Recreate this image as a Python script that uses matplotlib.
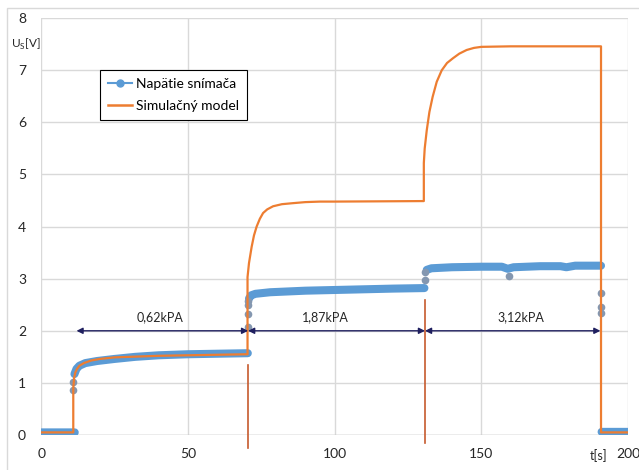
import matplotlib
matplotlib.use("Agg")
import matplotlib.pyplot as plt
from matplotlib.lines import Line2D
from matplotlib.patches import Rectangle

plt.rcParams['font.family'] = ['Lato', 'DejaVu Sans']
plt.rcParams['mathtext.fontset'] = 'custom'
plt.rcParams['mathtext.rm'] = 'Lato'

# namerané napätie snímača - priebeh pásma
t_band = [0, 11.4, None,
          11.3, 12, 13, 15, 19, 25, 32, 40, 50, 60, 70.4, None,
          70.8, 71.5, 73, 78, 90, 105, 120, 130.6, None,
          131.4, 133, 140, 150, 157, 159, 161, 170, 177, 179, 182, 190.8, None,
          191, 200.3]
u_band = [0.05, 0.05, None,
          1.17, 1.27, 1.33, 1.38, 1.42, 1.46, 1.5, 1.53, 1.55, 1.56, 1.57, None,
          2.62, 2.68, 2.71, 2.74, 2.77, 2.79, 2.81, 2.82, None,
          3.17, 3.2, 3.22, 3.23, 3.23, 3.19, 3.22, 3.24, 3.24, 3.22, 3.25, 3.25, None,
          0.06, 0.06]

# jednotlivé body pri skokoch
t_pts = [10.9, 10.9, 70.5, 70.5, 70.5, 70.6, 130.7, 130.8, 159.3, 190.8, 190.8, 190.8]
u_pts = [0.86, 1.02, 2.08, 2.32, 2.5, 2.58, 2.97, 3.13, 3.05, 2.73, 2.46, 2.35]

# simulačný model
t_model = [0, 10.9, 10.9, 11.2, 11.6, 12.2, 13, 14.5, 17, 20, 25, 30, 40, 50, 60, 70.3,
           70.3, 70.8, 71.7, 72.5, 73.4, 74.5, 75.6, 77, 79, 82, 85.8, 90, 95, 100, 130.4,
           130.4, 130.7, 131.4, 132.3, 133.4, 134.8, 136.5, 138.3, 140.3, 142.5, 145, 147.5, 150, 160, 190.8,
           190.8, 200]
u_model = [0.05, 0.05, 0.9, 1.1, 1.2, 1.27, 1.33, 1.38, 1.43, 1.46, 1.49, 1.5, 1.52, 1.53, 1.54, 1.55,
           3.03, 3.3, 3.61, 3.83, 4.0, 4.15, 4.26, 4.33, 4.39, 4.43, 4.45, 4.47, 4.48, 4.48, 4.49,
           5.22, 5.5, 5.85, 6.2, 6.49, 6.78, 7.0, 7.14, 7.23, 7.32, 7.39, 7.43, 7.45, 7.46, 7.46,
           0.05, 0.05]

# tlakové úseky
hranice = [12, 70.5, 130.8, 190.6]
tlaky = ['0,62kPA', '1,87kPA', '3,12kPA']
tlak_x = [40.4, 97, 163.5]
ciary_x = [70.6, 130.9]
ciary_y = [(1.34, -0.25), (2.6, -0.15)]

modra = '#5B9BD5'
oranzova = '#ED7D31'
cervena = '#C65A2E'
tmava = '#1F1F5F'

fig = plt.figure(figsize=(6.39, 4.70), dpi=100)
ax = fig.add_axes([41.3 / 639, 1 - 435 / 470, 586.7 / 639, 416.8 / 470])

# pásmo meraní (hrubá čiara)
tb = [float('nan') if v is None else v for v in t_band]
ub = [float('nan') if v is None else v for v in u_band]
ax.plot(tb, ub, color=modra, lw=5.8, solid_capstyle='round', solid_joinstyle='round', zorder=3)
ax.plot(t_pts, u_pts, 'o', color='#8497B0', ms=5.5, mec='none', zorder=3)

ax.plot(t_model, u_model, color=oranzova, lw=1.6, zorder=4)

# zvislé čiary
for x, (y1, y2) in zip(ciary_x, ciary_y):
    ax.plot([x, x], [y1, y2], color=cervena, lw=1.2, clip_on=False, zorder=5)

# šípky s tlakmi
for i, txt in enumerate(tlaky):
    ax.annotate('', xy=(hranice[i], 2), xytext=(hranice[i + 1], 2),
                arrowprops=dict(arrowstyle='<|-|>', color=tmava, lw=1.0,
                                mutation_scale=9, shrinkA=0, shrinkB=0), zorder=5)
    ax.text(tlak_x[i], 2.27, txt, ha='center', va='center', fontsize=9, color='#262626')

ax.set_xlim(0, 200)
ax.set_ylim(0, 8)
ax.set_xticks([0, 50, 100, 150, 200])
ax.set_yticks(range(9))
ax.grid(True, color='#D9D9D9', lw=1)
ax.set_axisbelow(True)
for s in ax.spines.values():
    s.set_visible(False)
ax.axhline(0, color='#BFBFBF', lw=1, zorder=1)
ax.tick_params(length=0, labelsize=10, colors='#262626')
ax.tick_params(axis='x', pad=9)
ax.tick_params(axis='y', pad=11)

ax.text(-0.027, 0.936, 'U$_\\mathrm{S}$[V]', transform=ax.transAxes, ha='center', va='center',
        fontsize=8.5, color='#262626')
ax.text(0.949, -0.05, 't[s]', transform=ax.transAxes, ha='center', va='center',
        fontsize=9, color='#262626')

handles = [Line2D([], [], color=modra, lw=1.5, marker='o', ms=5),
           Line2D([], [], color=oranzova, lw=1.8)]
leg = ax.legend(handles, ['Napätie snímača', 'Simulačný model'], loc='upper left',
                bbox_to_anchor=(0.1, 0.876), borderaxespad=0, fancybox=False,
                edgecolor='black', framealpha=1, fontsize=10, handlelength=1.7,
                handletextpad=0.3, labelspacing=0.7, borderpad=0.6)
leg.get_frame().set_linewidth(0.8)

# rámik grafu
fig.add_artist(Rectangle((7 / 639, -0.1), 1.2, 1 - 8 / 470 + 0.1, transform=fig.transFigure,
                         fill=False, edgecolor='#D9D9D9', lw=1))

fig.savefig('out.png', dpi=100)
